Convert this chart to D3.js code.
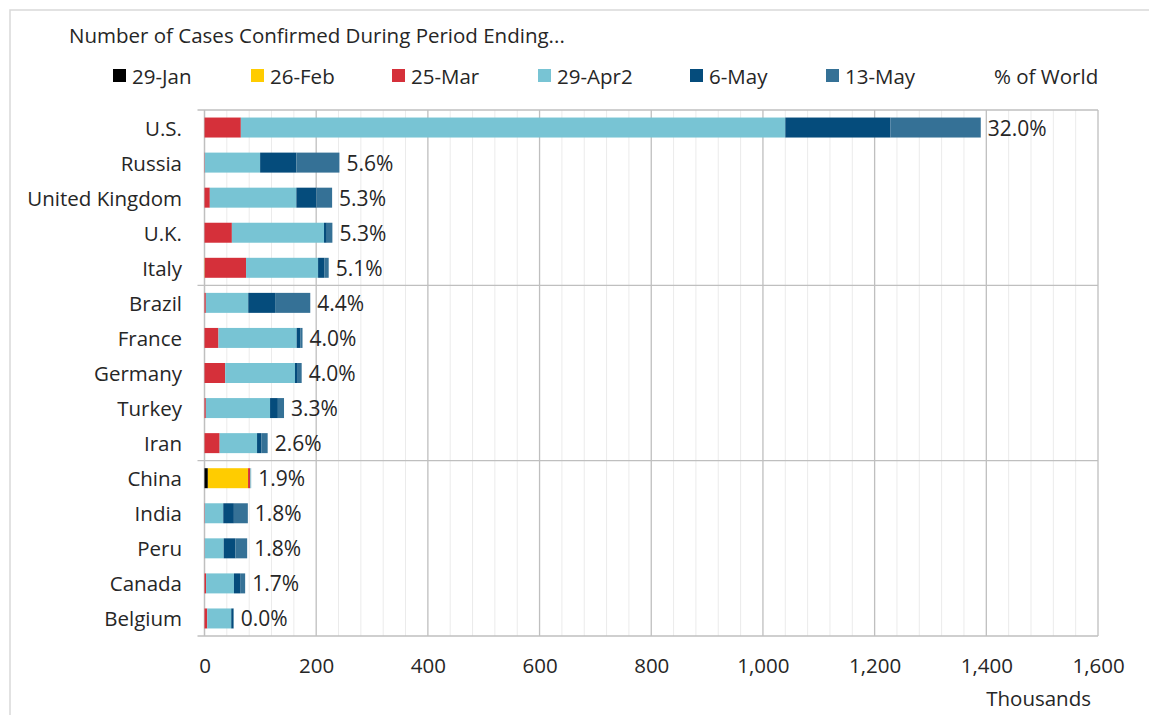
<!DOCTYPE html>
<html>
<head>
<meta charset="utf-8">
<script src="https://cdn.jsdelivr.net/npm/d3@7"></script>
<style>
  body { margin: 0; background: #fff; }
  svg { display: block; font-family: 'Segoe UI', 'Open Sans', sans-serif; }
</style>
</head>
<body>
<svg id="chart"></svg>
<script>
'use strict';

// countries, top to bottom
const countries = ['U.S.', 'Russia', 'United Kingdom', 'U.K.', 'Italy', 'Brazil', 'France',
  'Germany', 'Turkey', 'Iran', 'China', 'India', 'Peru', 'Canada', 'Belgium'];

// new cases in each period, thousands
const jan29 = [0.005, 0, 0, 0, 0, 0, 0.005, 0.004, 0, 0, 6, 0, 0, 0, 0];
const feb26 = [0.06, 0, 0.01, 0.01, 0.4, 0, 0.02, 0.02, 0, 0.1, 72, 0, 0, 0, 0];
const mar25 = [65, 0.6, 9.5, 49, 74, 2.4, 25, 37, 2.4, 27, 4, 0.6, 0.4, 2.8, 4.9];
const apr29 = [975, 99, 155, 165, 129, 76, 140, 125, 115, 67, 1.5, 33, 34, 50, 43];
const may6 = [188, 65, 36, 5, 11, 48, 7, 5, 14, 8, 0.05, 19, 21, 11, 3.4];
const may13 = [162, 77, 28, 10, 8, 63, 3.5, 7, 11, 11, 0.03, 25, 21, 9, 1.2];

const pctWorld = ['32.0%', '5.6%', '5.3%', '5.3%', '5.1%', '4.4%', '4.0%', '4.0%',
  '3.3%', '2.6%', '1.9%', '1.8%', '1.8%', '1.7%', '0.0%'];

const seriesNames = ['29-Jan', '26-Feb', '25-Mar', '29-Apr2', '6-May', '13-May'];
const seriesColors = ['#000000', '#ffcc00', '#d5303a', '#78c4d4', '#054c7c', '#357196'];
const xTicks = [0, 200, 400, 600, 800, 1000, 1200, 1400, 1600];

const width = 1149;
const height = 715;
const plot = {left: 204.5, right: 1098, top: 110, bottom: 636};
const textColor = '#262626';
const fontSize = 20.5;
const gridMajor = '#bfbfbf';
const gridMinor = '#ebebeb';

const rows = countries.map((c, i) => ({
  country: c,
  '29-Jan': jan29[i],
  '26-Feb': feb26[i],
  '25-Mar': mar25[i],
  '29-Apr2': apr29[i],
  '6-May': may6[i],
  '13-May': may13[i],
  pct: pctWorld[i]
}));

const svg = d3.select('#chart')
    .attr('width', width)
    .attr('height', height);

// outer chart frame
svg.append('rect')
    .attr('x', 10)
    .attr('y', 10)
    .attr('width', width)
    .attr('height', height)
    .attr('fill', 'none')
    .attr('stroke', '#d9d9d9')
    .attr('stroke-width', 1.5);

const x = d3.scaleLinear()
    .domain([0, 1600])
    .range([plot.left, plot.right]);
const y = d3.scaleBand()
    .domain(countries)
    .range([plot.top, plot.bottom])
    .paddingInner(0.43)
    .paddingOuter(0.215);

// minor grid every 40
svg.append('g')
    .selectAll('line')
    .data(d3.range(40, 1600, 40).filter((v) => v % 200 !== 0))
    .enter().append('line')
    .attr('x1', (d) => x(d))
    .attr('x2', (d) => x(d))
    .attr('y1', plot.top)
    .attr('y2', plot.bottom)
    .attr('stroke', gridMinor)
    .attr('stroke-width', 1);

// major grid
svg.append('g')
    .selectAll('line')
    .data(xTicks.slice(1))
    .enter().append('line')
    .attr('x1', (d) => x(d))
    .attr('x2', (d) => x(d))
    .attr('y1', plot.top)
    .attr('y2', plot.bottom)
    .attr('stroke', gridMajor)
    .attr('stroke-width', 1.3);

// group separators and frame
const step = y.step();
const seps = [0, 5, 10, 15].map((k) => plot.top + k * step);
svg.append('g')
    .selectAll('line')
    .data(seps)
    .enter().append('line')
    .attr('x1', plot.left - 7)
    .attr('x2', plot.right)
    .attr('y1', (d) => d)
    .attr('y2', (d) => d)
    .attr('stroke', gridMajor)
    .attr('stroke-width', 1.3);
svg.append('line')
    .attr('x1', plot.left)
    .attr('x2', plot.left)
    .attr('y1', plot.top)
    .attr('y2', plot.bottom)
    .attr('stroke', gridMajor)
    .attr('stroke-width', 1.5);

// stacked bars
const stack = d3.stack().keys(seriesNames);
const layers = stack(rows);
svg.append('g')
    .selectAll('g')
    .data(layers)
    .enter().append('g')
    .attr('fill', (d, i) => seriesColors[i])
    .selectAll('rect')
    .data((d) => d)
    .enter().append('rect')
    .attr('x', (d) => x(d[0]))
    .attr('y', (d) => y(d.data.country))
    .attr('width', (d) => Math.max(0, x(d[1]) - x(d[0])))
    .attr('height', y.bandwidth());

// % of world labels
svg.append('g')
    .selectAll('text')
    .data(layers[layers.length - 1])
    .enter().append('text')
    .attr('x', (d) => x(d[1]) + 7)
    .attr('y', (d) => y(d.data.country) + y.bandwidth() / 2)
    .attr('dominant-baseline', 'central')
    .attr('font-size', 21)
    .attr('fill', textColor)
    .text((d) => d.data.pct);

// category labels
svg.append('g')
    .selectAll('text')
    .data(countries)
    .enter().append('text')
    .attr('x', 182)
    .attr('y', (d) => y(d) + y.bandwidth() / 2)
    .attr('text-anchor', 'end')
    .attr('dominant-baseline', 'central')
    .attr('font-size', fontSize)
    .attr('fill', textColor)
    .text((d) => d);

// x axis
const xAxis = svg.append('g')
    .attr('transform', 'translate(0,' + plot.bottom + ')')
    .call(d3.axisBottom(x).tickValues(xTicks).tickFormat(d3.format(',')).tickSize(0).tickPadding(22));
xAxis.select('.domain').remove();
xAxis.selectAll('text')
    .attr('font-size', fontSize)
    .attr('font-family', "'Segoe UI', 'Open Sans', sans-serif")
    .attr('fill', textColor);

svg.append('text')
    .attr('x', 1091)
    .attr('y', 698)
    .attr('text-anchor', 'end')
    .attr('dominant-baseline', 'central')
    .attr('font-size', fontSize)
    .attr('fill', textColor)
    .text('Thousands');

// title
svg.append('text')
    .attr('x', 69)
    .attr('y', 35)
    .attr('dominant-baseline', 'central')
    .attr('font-size', fontSize)
    .attr('fill', textColor)
    .text('Number of Cases Confirmed During Period Ending...');

// legend
const legendX = [113, 251, 392, 538, 690, 826];
const legend = svg.append('g')
    .selectAll('g')
    .data(seriesNames)
    .enter().append('g')
    .attr('transform', (d, i) => 'translate(' + legendX[i] + ',76)');
legend.append('rect')
    .attr('x', 0)
    .attr('y', -7)
    .attr('width', 13)
    .attr('height', 13)
    .attr('fill', (d, i) => seriesColors[i]);
legend.append('text')
    .attr('x', 19)
    .attr('y', 0)
    .attr('dominant-baseline', 'central')
    .attr('font-size', fontSize)
    .attr('fill', textColor)
    .text((d) => d);
svg.append('text')
    .attr('x', 994)
    .attr('y', 76)
    .attr('dominant-baseline', 'central')
    .attr('font-size', fontSize)
    .attr('fill', textColor)
    .text('% of World');
</script>
</body>
</html>
